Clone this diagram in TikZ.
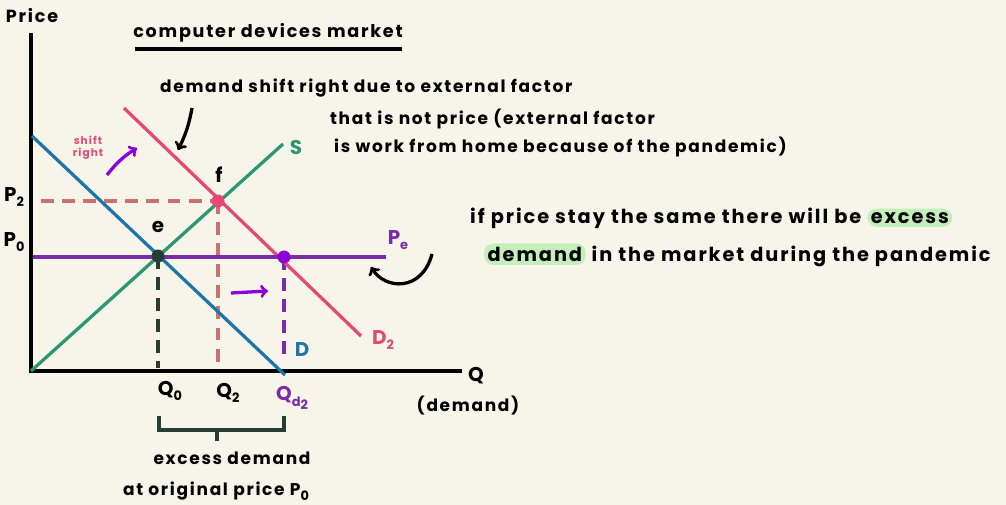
\documentclass[tikz,border=0pt]{standalone}
\usepackage{fontspec}
\setmainfont{Poppins}[LetterSpace=10]
\usetikzlibrary{arrows,calc}
\definecolor{paper}{RGB}{247,245,234}
\definecolor{sgreen}{RGB}{46,150,112}
\definecolor{dblue}{RGB}{30,118,168}
\definecolor{dpink}{RGB}{228,72,118}
\definecolor{pepurple}{RGB}{122,44,168}
\definecolor{dotpurple}{RGB}{140,0,220}
\definecolor{dashpink}{RGB}{204,112,112}
\definecolor{darkgr}{RGB}{40,62,52}
\definecolor{hlgreen}{RGB}{196,238,186}
\newcommand\hlword[1]{\tikz[baseline=(hw.base)]\node[fill=hlgreen,rounded corners=8pt,inner sep=3pt](hw){#1};}
\newcommand\lsub[1]{\raisebox{-0.5ex}{\fontsize{11}{11}\selectfont#1}}
\tikzset{
  axis/.style={line width=3.2pt,black},
  curve/.style={line width=2.8pt},
  guide/.style={line width=2.8pt,dash pattern=on 11pt off 7pt},
  lbl/.style={font=\fontsize{17}{19}\selectfont\bfseries},
  note/.style={font=\fontsize{14.5}{16}\selectfont\bfseries,align=left},
  big/.style={font=\fontsize{16.5}{18}\selectfont\bfseries},
}
\begin{document}
\begin{tikzpicture}[x=0.03cm,y=-0.03cm]
    \fill[paper] (0,0) rectangle (1006,505);
    \useasboundingbox (0,0) rectangle (1006,505);
    % axes
    \coordinate (O) at (31,371);
    \coordinate (ytop) at (31,33);
    \coordinate (xend) at (462,371);
    \draw[axis] (ytop)--(O)--(xend);
    \node[note,font=\fontsize{15}{17}\selectfont\bfseries] (price) at (32,16) {Price};
    \node[lbl] (qax) at (476,376) {Q};
    \node[note] (qdem) at (468,406) {(demand)};
    \node[font=\fontsize{15}{17}\selectfont\bfseries] (title) at (268,33) {computer devices market};
    \draw[line width=2.8pt] (135,49)--(402,49);
    % curves
    \coordinate (s0) at (31,371);   \coordinate (s1) at (283,144);
    \coordinate (d0) at (32,136);   \coordinate (d1) at (285,375);
    \coordinate (dd0) at (124,108); \coordinate (dd1) at (361,336);
    \coordinate (pe0) at (33,257);  \coordinate (pe1) at (386,257);
    \coordinate (e) at (158,256);
    \coordinate (f) at (218,201);
    \coordinate (g) at (284,257);
    \draw[guide,dashpink] (41,201)--(f);
    \draw[guide,dashpink] (f)--(218,368);
    \draw[guide,darkgr] (e)--(158,368);
    \draw[guide,pepurple] (g)--(284,356);
    \draw[curve,sgreen] (s0)--(s1);
    \draw[curve,dblue] (d0)--(d1);
    \draw[curve,dpink] (dd0)--(dd1);
    \draw[curve,pepurple] (pe0)--(pe1);
    \fill[darkgr] (e) circle(6.5);
    \fill[dpink] (f) circle(6.5);
    \fill[dotpurple] (g) circle(6.5);
    \node[lbl,sgreen] (slab) at (296,147) {S};
    \node[lbl,dblue] (dlab) at (302,350) {D};
    \node[lbl,dpink] (d2lab) at (383,340) {D\lsub{2}};
    \node[lbl,pepurple] (pelab) at (398,240) {P\lsub{e}};
    \node[lbl] (flab) at (219,175) {f};
    \node[lbl] (elab) at (158,227) {e};
    \node[lbl] (p2lab) at (14,197) {P\lsub{2}};
    \node[lbl] (p0lab) at (14,242) {P\lsub{0}};
    \node[lbl] (q0lab) at (170,391) {Q\lsub{0}};
    \node[lbl] (q2lab) at (228,393) {Q\lsub{2}};
    \node[lbl,pepurple] (qdlab) at (292,398) {Q\lsub{d\lsub{2}}};
    % arrows
    \draw[curve,dotpurple,->] (107,175) to[bend left=10] (137,148);
    \draw[curve,dotpurple,->] (231,293)--(268,291);
    \draw[curve,black,->] (192,108) to[bend left=8] (178,150);
    \draw[curve,black,->] (432,254) .. controls (422,292) and (385,290) .. (371,267);
    \node[font=\fontsize{9}{10}\selectfont\bfseries,dpink,align=center] (shift) at (88,148) {shift\\right};
    % bracket
    \draw[line width=2.8pt,darkgr] (159,416)--(159,430)--(284,430)--(284,416);
    \draw[line width=2.8pt,darkgr] (217,430)--(217,441);
    \node[note] (exd) at (232,458) {excess demand};
    \node[note] (orig) at (216,491) {at original price P\lsub{0}};
    % notes
    \node[note,anchor=west] (why) at (156,88) {demand shift right due to external factor};
    \node[note,anchor=west] (why2) at (326,119) {that is not price (external factor};
    \node[note,anchor=west] (why3) at (330,147) {is work from home because of the pandemic)};
    \node[big,anchor=west] (if1) at (466,218) {if price stay the same there will be \hlword{excess}};
    \node[big,anchor=west] (if2) at (480,255) {\hlword{demand} in the market during the pandemic};
\end{tikzpicture}
\end{document}
